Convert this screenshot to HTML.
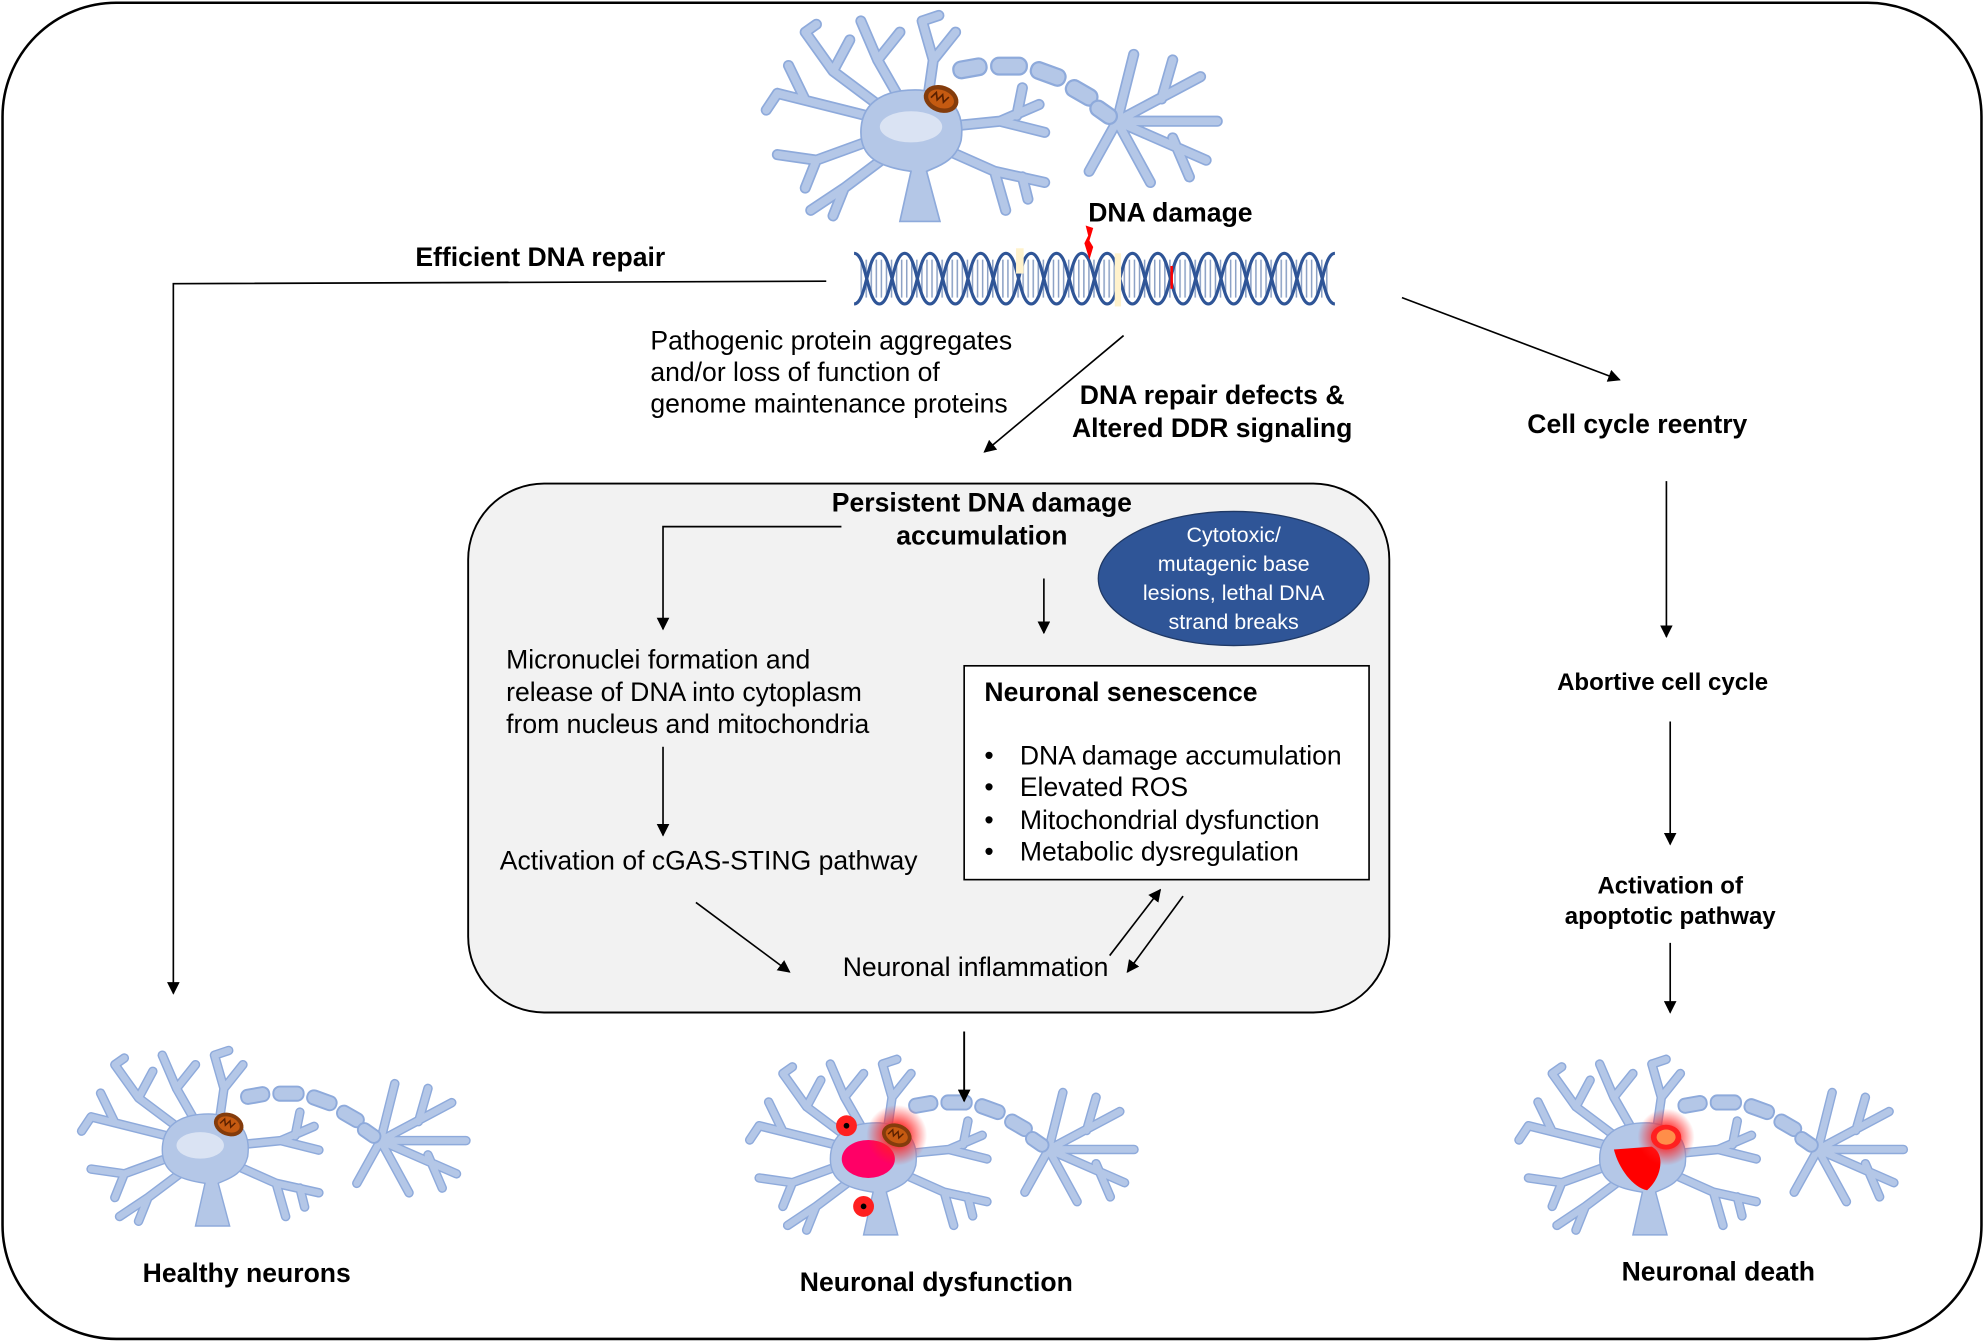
<!DOCTYPE html>
<html><head><meta charset="utf-8"><style>
html,body{margin:0;padding:0;background:#fff;}
svg{display:block;}
text{font-family:"Liberation Sans",Arial,sans-serif;fill:#000;}
.b{font-weight:bold;font-size:21px;}
.n{font-size:21px;}
</style></head><body>
<svg width="1984" height="1343" viewBox="0 0 1568 1061" xmlns="http://www.w3.org/2000/svg">
<defs>
<marker id="ar" markerWidth="10" markerHeight="10" refX="9" refY="5" orient="auto" markerUnits="userSpaceOnUse" viewBox="0 0 10 10"><path d="M0,0 L10,5 L0,10 z" fill="#000"/></marker>
<pattern id="rung" width="4" height="10" patternUnits="userSpaceOnUse"><rect x="0" y="0" width="1.2" height="10" fill="#2f5597" opacity="0.55"/></pattern>
<radialGradient id="glow"><stop offset="0.4" stop-color="#ff2020" stop-opacity="0.8"/><stop offset="1" stop-color="#ff2020" stop-opacity="0"/></radialGradient>
<g id="dn" fill="none" stroke-linecap="round" stroke-linejoin="round">
<path d="M-20,-5 L-120,-30 M-95,-24 L-110,-55 M-120,-30 L-130,-15"/>
<path d="M-30,-20 L-70,-50 L-95,-85 M-70,-50 L-55,-78 M-95,-85 L-85,-92"/>
<path d="M-10,-25 L-30,-60 L-45,-95 M-30,-60 L-10,-85"/>
<path d="M15,-25 L20,-60 L10,-95 M20,-60 L40,-85 M10,-95 L25,-100"/>
<path d="M-30,10 L-85,30 L-120,25 M-85,30 L-95,55"/>
<path d="M-20,25 L-60,55 L-90,75 M-60,55 L-70,80"/>
<path d="M30,0 L80,-5 L115,-20 M80,-5 L120,5 M95,-10 L100,-35"/>
<path d="M30,20 L75,40 L120,50 M75,40 L85,75 M100,45 L105,65"/>
<path d="M185,-5 L260,-45 M185,-5 L275,-5 M185,-5 L265,30 M185,-5 L215,50 M185,-5 L200,-65 M185,-5 L160,40 M225,-25 L235,-60 M235,10 L250,45"/>
</g>
<g id="neu">
<use href="#dn" stroke="#8eaadb" stroke-width="10"/>
<use href="#dn" stroke="#b4c7e7" stroke-width="7"/>
<path d="M-45,5 C-45,-25 -20,-34 8,-33 C40,-30 48,-10 45,12 C40,32 22,36 14,40 L26,85 L-10,85 L0,40 C-28,36 -45,28 -45,5z" fill="#b4c7e7" stroke="#8eaadb" stroke-width="1.5"/>
<g fill="#b4c7e7" stroke="#8eaadb" stroke-width="2">
<rect x="38" y="-60" width="30" height="15" rx="7" transform="rotate(-10 53 -52)"/>
<rect x="72" y="-62" width="32" height="15" rx="7"/>
<rect x="107" y="-55" width="32" height="15" rx="7" transform="rotate(20 123 -47)"/>
<rect x="138" y="-38" width="30" height="15" rx="7" transform="rotate(30 153 -30)"/>
<rect x="160" y="-20" width="26" height="14" rx="7" transform="rotate(35 173 -13)"/>
</g>
</g>
<g id="mito"><ellipse cx="0" cy="0" rx="16" ry="12" fill="#843c0c" transform="rotate(20)"/><ellipse cx="0" cy="0" rx="12" ry="8" fill="#c55a11" transform="rotate(20)"/><path d="M-9,2 l3,-6 l3,6 l3,-6 l3,6 l3,-6" stroke="#5a2000" stroke-width="1.5" fill="none" transform="rotate(20)"/></g>
</defs>

<rect x="2" y="2" width="1564" height="1056" rx="90" fill="#fff" stroke="#000" stroke-width="2"/>

<!-- top neuron -->
<g transform="translate(720,100) scale(0.88)"><use href="#neu"/><ellipse cx="0" cy="0" rx="28" ry="14" fill="#dae3f3"/><use href="#mito" x="27" y="-25"/></g>

<!-- DNA -->
<rect x="680" y="205" width="370" height="30" fill="url(#rung)"/>
<path d="M675,200 C685,200 685,240 695,240 S705,200 715,200 S725,240 735,240 S745,200 755,200 S765,240 775,240 S785,200 795,200 S805,240 815,240 S825,200 835,200 S845,240 855,240 S865,200 875,200 S885,240 895,240 S905,200 915,200 S925,240 935,240 S945,200 955,200 S965,240 975,240 S985,200 995,200 S1005,240 1015,240 S1025,200 1035,200 S1045,240 1055,240" fill="none" stroke="#2f5597" stroke-width="2.5"/>
<path d="M675,240 C685,240 685,200 695,200 S705,240 715,240 S725,200 735,200 S745,240 755,240 S765,200 775,200 S785,240 795,240 S805,200 815,200 S825,240 835,240 S845,200 855,200 S865,240 875,240 S885,200 895,200 S905,240 915,240 S925,200 935,200 S945,240 955,240 S965,200 975,200 S985,240 995,240 S1005,200 1015,200 S1025,240 1035,240 S1045,200 1055,200" fill="none" stroke="#2f5597" stroke-width="2.5"/>
<rect x="803" y="196" width="6" height="20" fill="#fff2cc"/>
<rect x="881" y="200" width="5" height="42" fill="#fff2cc"/>
<path d="M858,178 L864,180 L861,190 L864,195 L861,205 L857,192 L860,186z" fill="#ff0000"/>
<rect x="925" y="210" width="2" height="18" fill="#ff0000"/>

<text class="b" x="925" y="175" text-anchor="middle">DNA damage</text>
<text class="b" x="427" y="210" text-anchor="middle">Efficient DNA repair</text>
<polyline points="653,222 137,224 137,785" fill="none" stroke="#000" stroke-width="1.3" marker-end="url(#ar)"/>

<text class="n" x="514" y="276">Pathogenic protein aggregates</text>
<text class="n" x="514" y="301">and/or loss of function of</text>
<text class="n" x="514" y="326">genome maintenance proteins</text>
<line x1="888" y1="265" x2="778" y2="357" stroke="#000" stroke-width="1.3" marker-end="url(#ar)"/>
<text class="b" x="958" y="319" text-anchor="middle">DNA repair defects &amp;</text>
<text class="b" x="958" y="345" text-anchor="middle">Altered DDR signaling</text>

<line x1="1108" y1="235" x2="1280" y2="300" stroke="#000" stroke-width="1.3" marker-end="url(#ar)"/>
<text class="b" x="1294" y="342" text-anchor="middle">Cell cycle reentry</text>
<line x1="1317" y1="380" x2="1317" y2="503" stroke="#000" stroke-width="1.3" marker-end="url(#ar)"/>
<text class="b" x="1314" y="545" text-anchor="middle" style="font-size:19px">Abortive cell cycle</text>
<line x1="1320" y1="570" x2="1320" y2="667" stroke="#000" stroke-width="1.3" marker-end="url(#ar)"/>
<text class="b" x="1320" y="706" text-anchor="middle" style="font-size:19px">Activation of</text>
<text class="b" x="1320" y="730" text-anchor="middle" style="font-size:19px">apoptotic pathway</text>
<line x1="1320" y1="745" x2="1320" y2="800" stroke="#000" stroke-width="1.3" marker-end="url(#ar)"/>

<!-- gray box -->
<rect x="370" y="382" width="728" height="418" rx="60" fill="#f2f2f2" stroke="#000" stroke-width="1.5"/>
<text class="b" x="776" y="404" text-anchor="middle">Persistent DNA damage</text>
<text class="b" x="776" y="430" text-anchor="middle">accumulation</text>
<polyline points="665,416 524,416 524,497" fill="none" stroke="#000" stroke-width="1.3" marker-end="url(#ar)"/>
<line x1="825" y1="457" x2="825" y2="500" stroke="#000" stroke-width="1.3" marker-end="url(#ar)"/>
<ellipse cx="975" cy="457" rx="107" ry="53" fill="#2f5597" stroke="#1f3864" stroke-width="1"/>
<g style="font-size:17px" text-anchor="middle">
<text x="975" y="428" style="fill:#fff">Cytotoxic/</text>
<text x="975" y="451" style="fill:#fff">mutagenic base</text>
<text x="975" y="474" style="fill:#fff">lesions, lethal DNA</text>
<text x="975" y="497" style="fill:#fff">strand breaks</text>
</g>
<text class="n" x="400" y="528">Micronuclei formation and</text>
<text class="n" x="400" y="554">release of DNA into cytoplasm</text>
<text class="n" x="400" y="579">from nucleus and mitochondria</text>
<line x1="524" y1="590" x2="524" y2="660" stroke="#000" stroke-width="1.3" marker-end="url(#ar)"/>
<text class="n" x="395" y="687">Activation of cGAS-STING pathway</text>

<rect x="762" y="526" width="320" height="169" fill="#fff" stroke="#000" stroke-width="1.3"/>
<text class="b" x="778" y="554">Neuronal senescence</text>
<text class="n" x="778" y="604">•</text><text class="n" x="806" y="604">DNA damage accumulation</text>
<text class="n" x="778" y="629">•</text><text class="n" x="806" y="629">Elevated ROS</text>
<text class="n" x="778" y="655">•</text><text class="n" x="806" y="655">Mitochondrial dysfunction</text>
<text class="n" x="778" y="680">•</text><text class="n" x="806" y="680">Metabolic dysregulation</text>
<line x1="550" y1="713" x2="624" y2="768" stroke="#000" stroke-width="1.3" marker-end="url(#ar)"/>
<text class="n" x="666" y="771">Neuronal inflammation</text>
<line x1="877" y1="755" x2="917" y2="703" stroke="#000" stroke-width="1.3" marker-end="url(#ar)"/>
<line x1="935" y1="708" x2="891" y2="768" stroke="#000" stroke-width="1.3" marker-end="url(#ar)"/>

<!-- bottom left neuron -->
<g transform="translate(162,905) scale(0.75)"><use href="#neu"/><ellipse cx="-5" cy="0" rx="25" ry="14" fill="#dae3f3"/><use href="#mito" x="25" y="-22"/></g>
<text class="b" x="195" y="1013" text-anchor="middle">Healthy neurons</text>

<!-- middle neuron -->
<g transform="translate(690,912) scale(0.75)"><use href="#neu"/>
<ellipse cx="-5" cy="5" rx="28" ry="20" fill="#ff0066"/>
<circle cx="25" cy="-20" r="32" fill="url(#glow)"/><use href="#mito" x="25" y="-20"/>
<circle cx="-28" cy="-30" r="11" fill="#ff2020"/><circle cx="-28" cy="-30" r="3" fill="#000"/>
<circle cx="-10" cy="55" r="11" fill="#ff2020"/><circle cx="-10" cy="55" r="3" fill="#000"/>
</g>
<line x1="762" y1="815" x2="762" y2="870" stroke="#000" stroke-width="1.5" marker-end="url(#ar)"/>
<text class="b" x="740" y="1020" text-anchor="middle">Neuronal dysfunction</text>

<!-- right neuron -->
<g transform="translate(1298,912) scale(0.75)"><use href="#neu"/>
<path d="M-30,-5 L10,-8 C25,0 20,25 5,38 C-10,35 -25,15 -30,-5z" fill="#ff0000"/>
<circle cx="25" cy="-18" r="30" fill="url(#glow)"/>
<ellipse cx="25" cy="-18" rx="16" ry="13" fill="#ff2020"/>
<ellipse cx="25" cy="-18" rx="10" ry="8" fill="#ffd966" opacity="0.6"/>
</g>
<text class="b" x="1358" y="1012" text-anchor="middle">Neuronal death</text>
</svg>
</body></html>
